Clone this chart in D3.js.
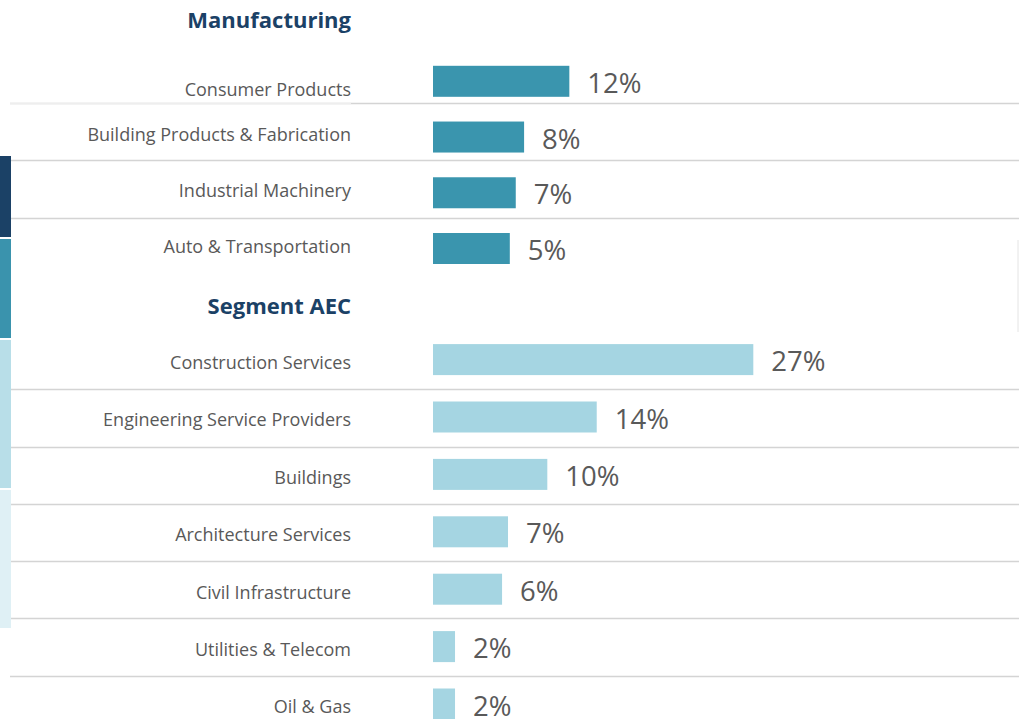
<!DOCTYPE html>
<html>
<head>
<meta charset="utf-8">
<script src="https://cdn.jsdelivr.net/npm/d3@7"></script>
<style>
    body { margin: 0; background: #fff; }
    svg { display: block; }
</style>
</head>
<body>
<svg id="root" width="1019" height="719"></svg>
<script>
// data
const mfgCategories = ["Consumer Products", "Building Products & Fabrication", "Industrial Machinery", "Auto & Transportation"];
const mfgValues = [11.45, 7.65, 6.95, 6.45];
const mfgLabels = ["12%", "8%", "7%", "5%"];

const aecCategories = ["Construction Services", "Engineering Service Providers", "Buildings", "Architecture Services", "Civil Infrastructure", "Utilities & Telecom", "Oil & Gas"];
const aecValues = [26.9, 13.75, 9.6, 6.3, 5.8, 1.85, 1.85];
const aecLabels = ["27%", "14%", "10%", "7%", "6%", "2%", "2%"];

const groupTitles = ["Manufacturing", "Segment AEC"];

// side strips on the left edge (decoration)
const stripColors = ["#1b4166", "#3a93ad", "#b8dee8", "#dff0f5"];
const stripBreaks = [156, 239, 340, 490, 630];

const main = () => {
    const svg = d3.select("#root");

    const dimensions = { width: 1019, height: 719 };
    const labelX = 351;
    const barH = 31;

    const x = d3.scaleLinear().domain([0, 27]).range([433, 754.5]);

    const mfgY = d3.scalePoint().domain(mfgCategories).range([81.3, 248.5]);
    const aecY = d3.scalePoint().domain(aecCategories).range([359.6, 704]);

    // separator grid, spaced like table rows
    const gridY = d3.scaleLinear().domain([0, 10]).range([103, 675.5]);
    const gridRows = [0, 1, 2, 5, 6, 7, 8, 9, 10];

    svg.append("g")
        .selectAll("line")
        .data(gridRows)
        .join("line")
        .attr("x1", 10)
        .attr("x2", dimensions.width)
        .attr("y1", (d) => Math.round(gridY(d)) + 0.5)
        .attr("y2", (d) => Math.round(gridY(d)) + 0.5)
        .attr("stroke", "#d4d4d4")
        .attr("stroke-width", 1.5);

    // lighter piece under the first label
    svg.append("line")
        .attr("x1", 10)
        .attr("x2", labelX)
        .attr("y1", Math.round(gridY(0)) + 0.5)
        .attr("y2", Math.round(gridY(0)) + 0.5)
        .attr("stroke", "#eeeeee")
        .attr("stroke-width", 1.5);

    // right edge trace
    svg.append("line")
        .attr("x1", 1018)
        .attr("x2", 1018)
        .attr("y1", 240)
        .attr("y2", 332)
        .attr("stroke", "#e4e4e4");

    // left strips
    svg.append("g")
        .selectAll("rect")
        .data(stripColors)
        .join("rect")
        .attr("x", 0)
        .attr("y", (d, i) => stripBreaks[i])
        .attr("width", 11)
        .attr("height", (d, i) => stripBreaks[i + 1] - stripBreaks[i] - 2)
        .attr("fill", (d) => d);

    const drawGroup = (cats, vals, labels, yScale, color, labelShift) => {
        const g = svg.append("g");
        const rows = cats.map((c, i) => ({ c, v: vals[i], l: labels[i] }));

        g.selectAll("rect")
            .data(rows)
            .join("rect")
            .attr("x", x(0))
            .attr("y", (d) => yScale(d.c) - barH / 2)
            .attr("width", (d) => x(d.v) - x(0))
            .attr("height", barH)
            .attr("fill", color);

        g.selectAll("text.cat")
            .data(rows)
            .join("text")
            .attr("class", "cat")
            .attr("x", labelX)
            .attr("y", (d, i) => yScale(d.c) + labelShift(i))
            .attr("dy", "0.35em")
            .attr("text-anchor", "end")
            .style("font-family", "'Open Sans', sans-serif")
            .style("font-size", "18px")
            .style("fill", "#595959")
            .text((d) => d.c);

        g.selectAll("text.val")
            .data(rows)
            .join("text")
            .attr("class", "val")
            .attr("x", (d) => x(d.v) + 18)
            .attr("y", (d) => yScale(d.c) + 2)
            .attr("dy", "0.35em")
            .style("font-family", "'Open Sans', sans-serif")
            .style("font-size", "27.5px")
            .style("fill", "#595959")
            .text((d) => d.l);
    };

    // first manufacturing label sits low in its cell
    drawGroup(mfgCategories, mfgValues, mfgLabels, mfgY, "#3a95ae", (i) => (i === 0 ? 8 : -2));
    drawGroup(aecCategories, aecValues, aecLabels, aecY, "#a5d5e2", () => 3);

    // group titles
    svg.append("g")
        .selectAll("text")
        .data(groupTitles)
        .join("text")
        .attr("x", labelX)
        .attr("y", (d, i) => [20, 306][i])
        .attr("dy", "0.35em")
        .attr("text-anchor", "end")
        .style("font-family", "'Open Sans', sans-serif")
        .style("font-weight", "bold")
        .style("font-size", "22px")
        .style("fill", "#1b4166")
        .text((d) => d);
};

main();
</script>
</body>
</html>
